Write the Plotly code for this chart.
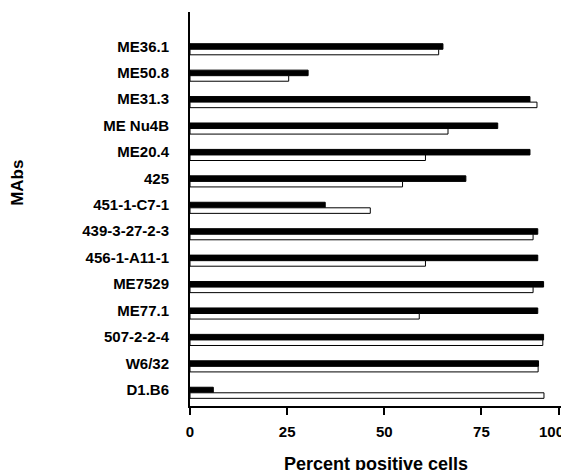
import plotly.graph_objects as go

categories = ["ME36.1", "ME50.8", "ME31.3", "ME Nu4B", "ME20.4", "425", "451-1-C7-1",
              "439-3-27-2-3", "456-1-A11-1", "ME7529", "ME77.1", "507-2-2-4", "W6/32", "D1.B6"]
black_values = [65.1, 30.4, 87.5, 79.2, 87.5, 71.0, 34.8, 89.5, 89.5, 91.0, 89.5, 91.0, 89.7, 6.0]
white_values = [64.0, 25.4, 89.3, 66.4, 60.6, 54.7, 46.4, 88.3, 60.6, 88.3, 59.0, 90.8, 89.6, 91.1]
tick_values = [0, 25, 50, 75, 94.85]
tick_labels = ["0", "25", "50", "75", "100"]

FONT = "Liberation Sans, Arial, Helvetica, sans-serif"

fig = go.Figure()
fig.add_trace(go.Bar(y=categories, x=black_values, orientation="h",
                     marker=dict(color="black", line=dict(color="black", width=1)),
                     showlegend=False))
fig.add_trace(go.Bar(y=categories, x=white_values, orientation="h",
                     marker=dict(color="white", line=dict(color="black", width=1)),
                     showlegend=False))

# last tick label sits slightly left of its tick in the reference, drawn as annotation
shown_ticktext = tick_labels[:-1] + [""]

fig.update_layout(
    width=569, height=470,
    margin=dict(l=182, r=0, t=4, b=72),
    paper_bgcolor="white", plot_bgcolor="white",
    barmode="group", bargap=0.58, bargroupgap=0,
    font=dict(family=FONT, color="black", size=15, weight="bold"),
    xaxis=dict(range=[0, 99.6], tickvals=tick_values, ticktext=shown_ticktext,
               showline=True, linecolor="black", linewidth=2,
               ticks="outside", ticklen=7, tickwidth=2, tickcolor="black",
               showgrid=False, zeroline=False, ticklabelstandoff=4,
               tickfont=dict(family=FONT, size=15, weight="bold")),
    yaxis=dict(type="category", range=[13.5, -1.41],
               showline=True, linecolor="black", linewidth=2,
               ticks="outside", ticklen=16, tickcolor="rgba(0,0,0,0)",
               showgrid=False, zeroline=False, ticklabelshift=3,
               tickfont=dict(family=FONT, size=15, weight="bold")),
    annotations=[
        dict(text=tick_labels[-1], xref="x", yref="paper",
             x=tick_values[-1] - 1.9, y=-0.0652, xanchor="center", yanchor="middle",
             showarrow=False, font=dict(family=FONT, size=15, weight="bold")),
        dict(text="Percent positive cells", xref="paper", yref="paper",
             x=0.480, y=-0.1472, xanchor="center", yanchor="middle", showarrow=False,
             font=dict(family=FONT, size=18, weight="bold")),
        dict(text="MAbs", xref="paper", yref="paper", textangle=-90,
             x=-0.4457, y=0.5652, xanchor="center", yanchor="middle", showarrow=False,
             font=dict(family=FONT, size=17, weight="bold")),
    ],
)

fig.write_html("out.html")
